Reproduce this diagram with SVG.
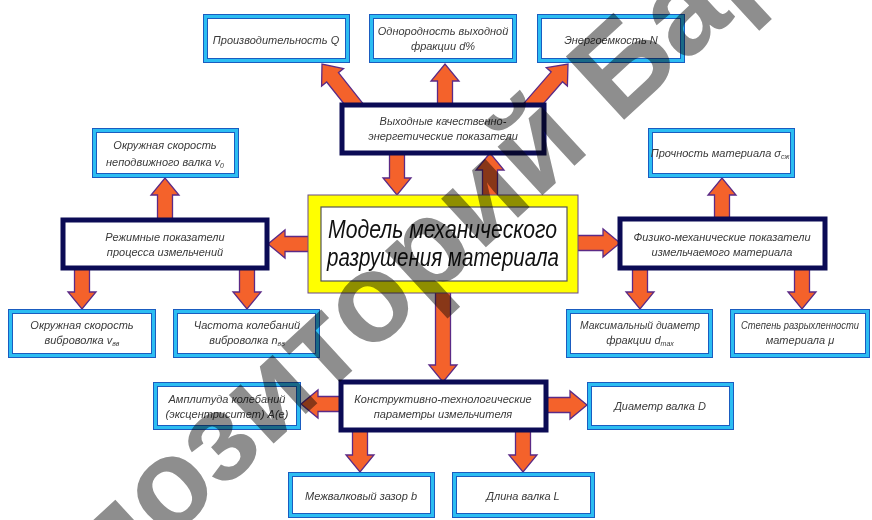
<svg xmlns="http://www.w3.org/2000/svg" width="872" height="520" viewBox="0 0 872 520">
<style>
.arr{fill:#f4622b;stroke:#5b2a86;stroke-width:1.3;stroke-linejoin:miter}
.cb1{fill:#fff;stroke:#2cbdf2;stroke-width:5}
.cb2{fill:none;stroke:#1a5cc0;stroke-width:1}
.nb{fill:#fff;stroke:#0b0b55;stroke-width:5}
.t{font-family:"Liberation Sans",Arial,sans-serif;font-style:italic;font-size:11px;fill:#3a3a3a;text-anchor:middle}
.big{font-family:"Liberation Sans",Arial,sans-serif;font-style:italic;font-size:22px;fill:#111}
.wm{font-family:"Liberation Sans",Arial,sans-serif;font-weight:bold;font-size:125px;fill:#8e8e8e;mix-blend-mode:multiply}
</style>
<rect width="872" height="520" fill="#fff"/>
<g id="connectors">
<polygon class="arr" transform="translate(322,64) rotate(-128.4)" points="-61,-7.5 -17,-7.5 -17,-14 0,0 -17,14 -17,7.5 -61,7.5"/>
<polygon class="arr" transform="translate(445,64) rotate(-90)" points="-46,-7.5 -17,-7.5 -17,-14 0,0 -17,14 -17,7.5 -46,7.5"/>
<polygon class="arr" transform="translate(568,64) rotate(-49)" points="-61,-7.5 -17,-7.5 -17,-14 0,0 -17,14 -17,7.5 -61,7.5"/>
<polygon class="arr" transform="translate(397,195) rotate(90)" points="-45,-7.5 -17,-7.5 -17,-14 0,0 -17,14 -17,7.5 -45,7.5"/>
<polygon class="arr" transform="translate(490,153) rotate(-90)" points="-45,-7.5 -17,-7.5 -17,-14 0,0 -17,14 -17,7.5 -45,7.5"/>
<polygon class="arr" transform="translate(268,244) rotate(180)" points="-44,-7.5 -17,-7.5 -17,-14 0,0 -17,14 -17,7.5 -44,7.5"/>
<polygon class="arr" transform="translate(620,243)" points="-45,-7.5 -17,-7.5 -17,-14 0,0 -17,14 -17,7.5 -45,7.5"/>
<polygon class="arr" transform="translate(165,178) rotate(-90)" points="-44,-7.5 -17,-7.5 -17,-14 0,0 -17,14 -17,7.5 -44,7.5"/>
<polygon class="arr" transform="translate(722,178) rotate(-90)" points="-43,-7.5 -17,-7.5 -17,-14 0,0 -17,14 -17,7.5 -43,7.5"/>
<polygon class="arr" transform="translate(82,309) rotate(90)" points="-43,-7.5 -17,-7.5 -17,-14 0,0 -17,14 -17,7.5 -43,7.5"/>
<polygon class="arr" transform="translate(247,309) rotate(90)" points="-43,-7.5 -17,-7.5 -17,-14 0,0 -17,14 -17,7.5 -43,7.5"/>
<polygon class="arr" transform="translate(640,309) rotate(90)" points="-43,-7.5 -17,-7.5 -17,-14 0,0 -17,14 -17,7.5 -43,7.5"/>
<polygon class="arr" transform="translate(802,309) rotate(90)" points="-43,-7.5 -17,-7.5 -17,-14 0,0 -17,14 -17,7.5 -43,7.5"/>
<polygon class="arr" transform="translate(443,382) rotate(90)" points="-92,-7.5 -17,-7.5 -17,-14 0,0 -17,14 -17,7.5 -92,7.5"/>
<polygon class="arr" transform="translate(301,404) rotate(180)" points="-43,-7.5 -17,-7.5 -17,-14 0,0 -17,14 -17,7.5 -43,7.5"/>
<polygon class="arr" transform="translate(587,405)" points="-45,-7.5 -17,-7.5 -17,-14 0,0 -17,14 -17,7.5 -45,7.5"/>
<polygon class="arr" transform="translate(360,472) rotate(90)" points="-44,-7.5 -17,-7.5 -17,-14 0,0 -17,14 -17,7.5 -44,7.5"/>
<polygon class="arr" transform="translate(523,472) rotate(90)" points="-44,-7.5 -17,-7.5 -17,-14 0,0 -17,14 -17,7.5 -44,7.5"/>
</g>
<g id="model">
<rect x="308" y="195" width="270" height="98" fill="#ffff00" stroke="#6b4a8a" stroke-width="1"/>
<rect x="321" y="207" width="246" height="74" fill="#fff" stroke="#555" stroke-width="1.2"/>
<text class="big" transform="translate(328,238) scale(1,1.18)" textLength="229" lengthAdjust="spacingAndGlyphs">Модель механического</text>
<text class="big" transform="translate(327,266) scale(1,1.18)" textLength="232" lengthAdjust="spacingAndGlyphs">разрушения материала</text>
</g>
<g id="vyhodnye">
<rect class="nb" x="342" y="105" width="202" height="48"/>
<text class="t" x="443" y="125">Выходные качественно-</text>
<text class="t" x="443" y="140">энергетические показатели</text>
</g>
<g id="rezhim">
<rect class="nb" x="63" y="220" width="204" height="48"/>
<text class="t" x="165" y="241">Режимные показатели</text>
<text class="t" x="165" y="256">процесса измельчений</text>
</g>
<g id="fiziko">
<rect class="nb" x="620" y="219" width="205" height="49"/>
<text class="t" x="722" y="241">Физико-механические показатели</text>
<text class="t" x="722" y="256">измельчаемого материала</text>
</g>
<g id="konstr">
<rect class="nb" x="341" y="382" width="205" height="48"/>
<text class="t" x="443" y="403">Конструктивно-технологические</text>
<text class="t" x="443" y="418">параметры измельчителя</text>
</g>
<g id="proizv">
<rect class="cb1" x="205.5" y="16.5" width="142" height="44"/><rect class="cb2" x="203.5" y="14.5" width="146" height="48"/><rect class="cb2" x="207.5" y="18.5" width="138" height="40"/>
<text class="t" x="276" y="44">Производительность Q</text>
</g>
<g id="odnorod">
<rect class="cb1" x="371.5" y="16.5" width="143" height="44"/><rect class="cb2" x="369.5" y="14.5" width="147" height="48"/><rect class="cb2" x="373.5" y="18.5" width="139" height="40"/>
<text class="t" x="443" y="35">Однородность выходной</text>
<text class="t" x="443" y="50">фракции d%</text>
</g>
<g id="energ">
<rect class="cb1" x="539.5" y="16.5" width="143" height="44"/><rect class="cb2" x="537.5" y="14.5" width="147" height="48"/><rect class="cb2" x="541.5" y="18.5" width="139" height="40"/>
<text class="t" x="611" y="44">Энергоемкость N</text>
</g>
<g id="okr0">
<rect class="cb1" x="94.5" y="130.5" width="142" height="45"/><rect class="cb2" x="92.5" y="128.5" width="146" height="49"/><rect class="cb2" x="96.5" y="132.5" width="138" height="41"/>
<text class="t" x="165" y="149">Окружная скорость</text>
<text class="t" x="165" y="166">неподвижного валка v<tspan font-size="7" dy="2">0</tspan></text>
</g>
<g id="prochn">
<rect class="cb1" x="650.5" y="130.5" width="142" height="45"/><rect class="cb2" x="648.5" y="128.5" width="146" height="49"/><rect class="cb2" x="652.5" y="132.5" width="138" height="41"/>
<text class="t" x="720" y="157">Прочность материала σ<tspan font-size="7" dy="2">сж</tspan></text>
</g>
<g id="okrvv">
<rect class="cb1" x="10.5" y="311.5" width="143" height="44"/><rect class="cb2" x="8.5" y="309.5" width="147" height="48"/><rect class="cb2" x="12.5" y="313.5" width="139" height="40"/>
<text class="t" x="82" y="329">Окружная скорость</text>
<text class="t" x="82" y="344">виброволка v<tspan font-size="7" dy="2">вв</tspan></text>
</g>
<g id="chastota">
<rect class="cb1" x="175.5" y="311.5" width="142" height="44"/><rect class="cb2" x="173.5" y="309.5" width="146" height="48"/><rect class="cb2" x="177.5" y="313.5" width="138" height="40"/>
<text class="t" x="247" y="329">Частота колебаний</text>
<text class="t" x="247" y="344">виброволка n<tspan font-size="7" dy="2">вв</tspan></text>
</g>
<g id="maxdiam">
<rect class="cb1" x="568.5" y="311.5" width="142" height="44"/><rect class="cb2" x="566.5" y="309.5" width="146" height="48"/><rect class="cb2" x="570.5" y="313.5" width="138" height="40"/>
<text class="t" x="640" y="329" textLength="120" lengthAdjust="spacingAndGlyphs">Максимальный диаметр</text>
<text class="t" x="640" y="344">фракции d<tspan font-size="7" dy="2">max</tspan></text>
</g>
<g id="stepen">
<rect class="cb1" x="732.5" y="311.5" width="135" height="44"/><rect class="cb2" x="730.5" y="309.5" width="139" height="48"/><rect class="cb2" x="734.5" y="313.5" width="131" height="40"/>
<text class="t" x="800" y="329" font-size="10" textLength="118" lengthAdjust="spacingAndGlyphs">Степень разрыхленности</text>
<text class="t" x="800" y="344">материала μ</text>
</g>
<g id="amplit">
<rect class="cb1" x="155.5" y="384.5" width="143" height="43"/><rect class="cb2" x="153.5" y="382.5" width="147" height="47"/><rect class="cb2" x="157.5" y="386.5" width="139" height="39"/>
<text class="t" x="227" y="403">Амплитуда колебаний</text>
<text class="t" x="227" y="418">(эксцентриситет) A(e)</text>
</g>
<g id="diametr">
<rect class="cb1" x="589.5" y="384.5" width="142" height="43"/><rect class="cb2" x="587.5" y="382.5" width="146" height="47"/><rect class="cb2" x="591.5" y="386.5" width="138" height="39"/>
<text class="t" x="660" y="410">Диаметр валка D</text>
</g>
<g id="mezhval">
<rect class="cb1" x="290.5" y="474.5" width="142" height="41"/><rect class="cb2" x="288.5" y="472.5" width="146" height="45"/><rect class="cb2" x="292.5" y="476.5" width="138" height="37"/>
<text class="t" x="361" y="500">Межвалковый зазор b</text>
</g>
<g id="dlina">
<rect class="cb1" x="454.5" y="474.5" width="138" height="41"/><rect class="cb2" x="452.5" y="472.5" width="142" height="45"/><rect class="cb2" x="456.5" y="476.5" width="134" height="37"/>
<text class="t" x="523" y="500">Длина валка L</text>
</g>
<text class="wm" transform="translate(1,695) rotate(-42.7)">Репозиторий БарГУ</text>
</svg>
